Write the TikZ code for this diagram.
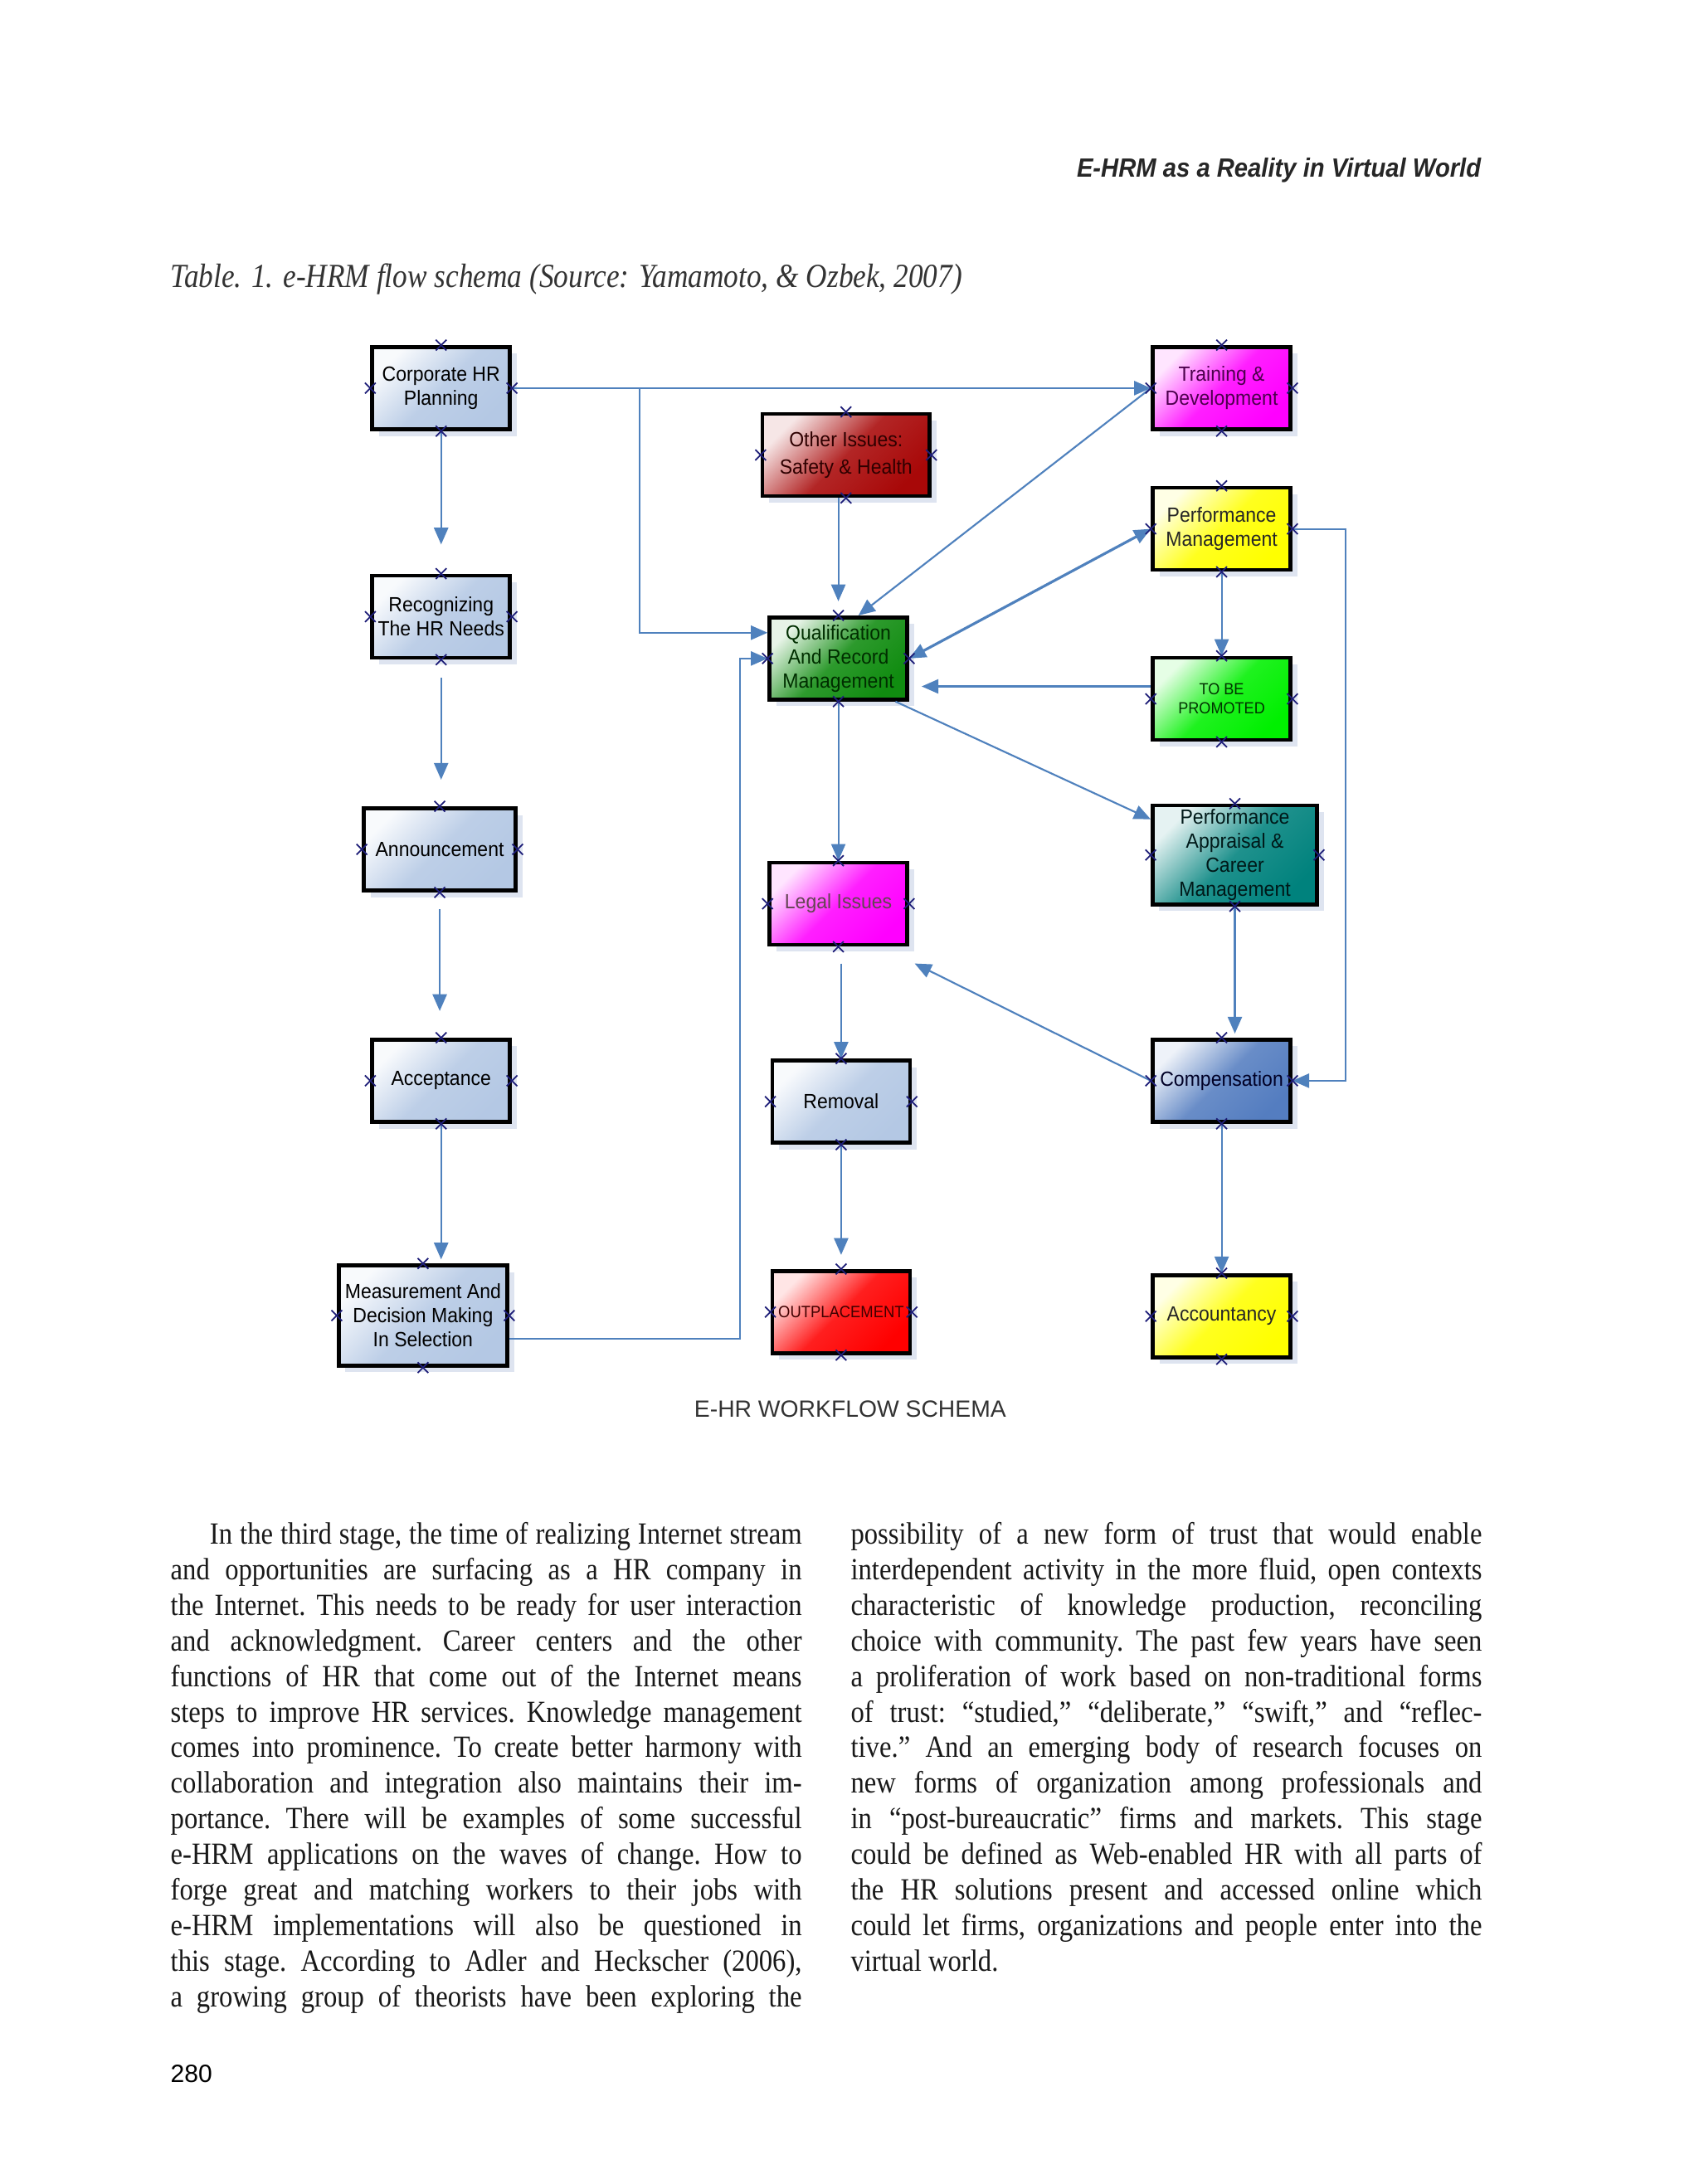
\documentclass[tikz,border=0pt]{standalone}
\usepackage{fontspec}
\usepackage{graphicx}
\setmainfont{Liberation Serif}
\newfontfamily\bodyfont[FakeStretch=0.88]{Liberation Serif}
\newfontfamily\boxfont[FakeStretch=0.93]{Liberation Sans}
\newfontfamily\hdsans{Liberation Sans}
\usetikzlibrary{calc, arrows.meta, shadows, shapes.misc}

\definecolor{flowblue}{RGB}{79,129,189}
\definecolor{paleblue}{RGB}{180,200,228}
\definecolor{darkred}{RGB}{168,8,8}
\definecolor{qualgreen}{RGB}{16,140,16}
\definecolor{magent}{RGB}{255,0,255}
\definecolor{brightred}{RGB}{255,0,0}
\definecolor{yel}{RGB}{255,255,0}
\definecolor{limeg}{RGB}{0,240,0}
\definecolor{tealc}{RGB}{0,130,125}
\definecolor{compblue}{RGB}{84,125,192}
\definecolor{shadowc}{RGB}{222,228,240}
\definecolor{markc}{RGB}{30,30,120}

\tikzset{
  x=0.166911mm, y=-0.166911mm,
  hrbox/.style={draw=black, line width=1.3pt, minimum width=16.5mm, minimum height=9.85mm,
    inner sep=0.4mm, align=center, font=\boxfont\fontsize{7}{8.2}\selectfont,
    drop shadow={shadow xshift=0.8mm, shadow yshift=-0.8mm, fill=shadowc, opacity=1}},
  tint/.style={top color=#1!10!white, bottom color=#1, middle color=#1!88!white, shading angle=45},
  flow/.style={draw=flowblue, line width=0.6pt, -{Triangle[length=2mm, width=1.7mm]}},
  xmark/.style={cross out, draw=markc, line width=0.5pt, minimum size=1.1mm, inner sep=0pt},
  bodyline/.style={anchor=base west, inner sep=0pt, font=\bodyfont\fontsize{10.5}{12}\selectfont\frenchspacing, text=black!90},
}

\begin{document}
\begin{tikzpicture}
\useasboundingbox (0,0) rectangle (1219,1567.2);
\fill[white] (0,0) rectangle (1219,1567.2);

% page head and caption
\node[anchor=base east, inner sep=0pt, text=black!85] (head) at (1063,127)
  {\resizebox{48.4mm}{\height}{\hdsans\fontsize{9}{10}\selectfont\bfseries\itshape E-HRM as a Reality in Virtual World}};
\node[anchor=base west, inner sep=0pt, text=black!80] (cap) at (122,206)
  {\resizebox{94.8mm}{\height}{\fontsize{11.5}{13}\selectfont\itshape Table. 1. e-HRM flow schema (Source: Yamamoto, \& Ozbek, 2007)}};

% left column of boxes
\node[hrbox, tint=paleblue] (corp) at (316.5,278.5) {Corporate HR\\Planning};
\node[hrbox, tint=paleblue] (recog) at (316.5,442.5) {Recognizing\\The HR Needs};
\node[hrbox, tint=paleblue, minimum width=18.2mm] (announce) at (315.5,609.5) {Announcement};
\node[hrbox, tint=paleblue] (accept) at (316.5,775.5) {Acceptance};
\node[hrbox, tint=paleblue, minimum width=20.2mm, minimum height=12mm] (measure) at (303.5,944) {Measurement And\\Decision Making\\In Selection};

% middle column
\node[hrbox, tint=darkred, minimum width=20mm, text=red!18!black] (other) at (607,326.5) {Other Issues:\\[1pt]Safety \& Health};
\node[hrbox, tint=qualgreen, text=green!18!black] (qual) at (601.5,472.5) {Qualification\\And Record\\Management};
\node[hrbox, tint=magent, text=magenta!30!black] (legal) at (601.5,648.5) {Legal Issues};
\node[hrbox, tint=paleblue] (removal) at (603.5,790.5) {Removal};
\node[hrbox, tint=brightred, inner sep=0pt, text=red!25!black, font=\boxfont\fontsize{5.6}{6.6}\selectfont] (outplace) at (603.5,941.5) {OUTPLACEMENT};

% right column
\node[hrbox, tint=magent, text=violet!60!black] (train) at (876.5,278.5) {Training \&\\Development};
\node[hrbox, tint=yel, text=black!85] (perfm) at (876.5,379.5) {Performance\\Management};
\node[hrbox, tint=limeg, text=green!20!black, font=\boxfont\fontsize{5.5}{6.6}\selectfont] (promo) at (876.5,501.5) {TO BE\\PROMOTED};
\node[hrbox, tint=tealc, minimum width=19.7mm, minimum height=11.85mm, text=teal!20!black] (apprais) at (886,613.5) {Performance\\Appraisal \&\\Career\\Management};
\node[hrbox, tint=compblue, text=blue!15!black] (comp) at (876.5,775.5) {Compensation};
\node[hrbox, tint=yel, text=black!85] (account) at (876.5,944.5) {Accountancy};

\node[anchor=base, inner sep=0pt, text=black!80, font=\hdsans\fontsize{8}{9}\selectfont] (schema) at (610,1017) {E-HR WORKFLOW SCHEMA};

% connectors
\draw[flow, shorten >=3.5mm] (corp.south) -- (recog.north);
\draw[flow, shorten <=2.2mm, shorten >=3.2mm] (recog.south) -- (recog.south |- announce.north);
\draw[flow, shorten <=2mm, shorten >=3.2mm] (announce.south) -- (announce.south |- accept.north);
\draw[flow, shorten >=0.5mm] (accept.south) -- (accept.south |- measure.north);
\draw[flow] (corp.east) -- (train.west);
\coordinate (split) at (459,278.5);
\draw[flow] (split) |- (qual.160);
\draw[flow] (measure.-15) -| ([xshift=-3.3mm]qual.west) -- (qual.west);
\draw[flow, shorten >=1.7mm] (qual.north |- other.south) -- (qual.north);
\draw[flow] (train.west) -- (qual.65);
\draw[flow, line width=0.9pt, {Triangle[length=2mm, width=1.7mm]}-{Triangle[length=2mm, width=1.7mm]}] (qual.east) -- (perfm.west);
\draw[flow, shorten >=1.5mm] (promo.170) -- (promo.170 -| qual.east);
\draw[flow] (perfm) -- (promo);
\draw[flow] (qual.-37) -- (apprais.157);
\draw[flow] (qual) -- (legal);
\draw[flow, shorten <=2mm] (removal.north |- legal.south) -- (removal.north);
\draw[flow, shorten >=1.7mm] (removal) -- (outplace);
\draw[flow, shorten >=0.5mm] (apprais.south) -- (apprais.south |- comp.north);
\draw[flow] (comp.west) -- ([shift={(4,12)}]legal.south east);
\draw[flow] (perfm.east) -- ++(38,0) |- (comp.east);
\draw[flow] (comp) -- (account);

% connection marks
\foreach \n in {corp,recog,announce,accept,measure,other,qual,legal,removal,outplace,train,perfm,promo,apprais,comp,account}
  \foreach \a in {north,south,east,west}
    \node[xmark] (\n-\a) at (\n.\a) {};

% body text
\foreach \ln [count=\i from 0] in {
  {\hspace*{4.7mm}In the third stage, the time of realizing Internet stream},
  {and opportunities are surfacing as a HR company in},
  {the Internet. This needs to be ready for user interaction},
  {and acknowledgment. Career centers and the other},
  {functions of HR that come out of the Internet means},
  {steps to improve HR services. Knowledge management},
  {comes into prominence. To create better harmony with},
  {collaboration and integration also maintains their im-},
  {portance. There will be examples of some successful},
  {e-HRM applications on the waves of change. How to},
  {forge great and matching workers to their jobs with},
  {e-HRM implementations will also be questioned in},
  {this stage. According to Adler and Heckscher (2006),},
  {a growing group of theorists have been exploring the}}
  \node[bodyline] (lcol\i) at (122,1108+25.54*\i) {\makebox[75.6mm][s]{\ln}};
\foreach \ln [count=\i from 0] in {
  {possibility of a new form of trust that would enable},
  {interdependent activity in the more fluid, open contexts},
  {characteristic of knowledge production, reconciling},
  {choice with community. The past few years have seen},
  {a proliferation of work based on non-traditional forms},
  {of trust: “studied,” “deliberate,” “swift,” and “reflec-},
  {tive.” And an emerging body of research focuses on},
  {new forms of organization among professionals and},
  {in “post-bureaucratic” firms and markets. This stage},
  {could be defined as Web-enabled HR with all parts of},
  {the HR solutions present and accessed online which},
  {could let firms, organizations and people enter into the}}
  \node[bodyline] (rcol\i) at (610,1108+25.54*\i) {\makebox[75.6mm][s]{\ln}};
\node[bodyline] (rcol12) at (610,1108+25.54*12) {virtual world.};

\node[anchor=base west, inner sep=0pt, font=\hdsans\fontsize{8.5}{10}\selectfont] (pageno) at (122,1494) {280};
\end{tikzpicture}
\end{document}
